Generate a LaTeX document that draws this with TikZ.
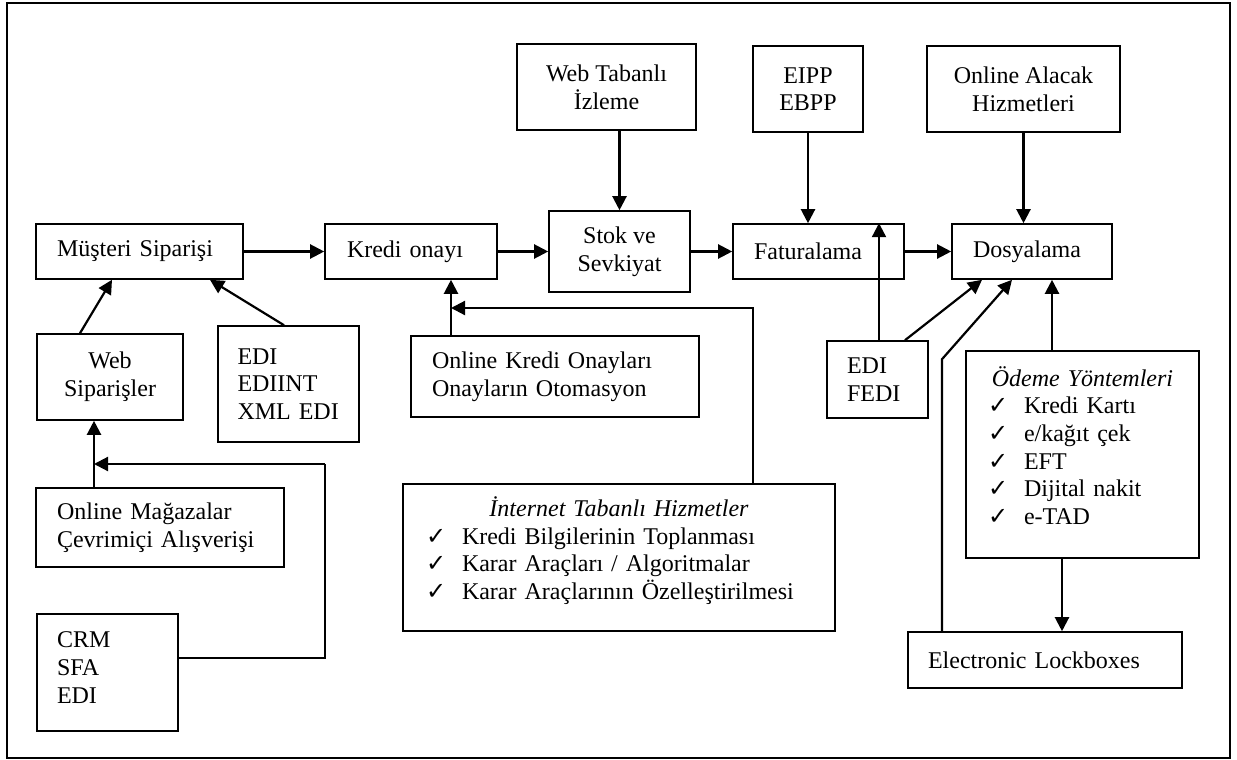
\documentclass[tikz,border=0pt]{standalone}
\usepackage{fontspec}
\setmainfont{Liberation Serif}
\newfontfamily\chkfont{DejaVu Sans}
\usetikzlibrary{arrows.meta}
\newcommand{\ck}{\makebox[18pt][l]{\chkfont\fontsize{12}{12}\selectfont ✓}}
\newcommand{\botpad}[1]{\par\nointerlineskip\vspace{#1}\hbox{}}
\begin{document}
\begin{tikzpicture}[x=0.5pt,y=-0.5pt,
  box/.style={draw, line width=0.8pt, inner sep=0pt, font=\fontsize{12}{13.8}\selectfont},
  lbox/.style={box, align=left},
  cbox/.style={box, align=center},
  arr/.style={line width=1.1pt, -{Triangle[length=7pt,width=7pt]}},
  ln/.style={line width=1.1pt}]
\useasboundingbox (0,0) rectangle (1237,760);
\draw[line width=0.9pt] (7,3) rectangle (1230,758);

% main row
\node[lbox, minimum width=103.5pt, minimum height=27.5pt, text width=82.5pt] (mus) at (139.5,251.5) {Müşteri Siparişi};
\node[lbox, minimum width=86pt, minimum height=27.5pt, text width=64pt] (kredi) at (411,251.5) {Kredi onayı};
\node[cbox, minimum width=70.5pt, minimum height=40.5pt] (stok) at (619.5,251.5) {Stok ve\\Sevkiyat};
\node[lbox, minimum width=85.5pt, minimum height=27.5pt, text width=64.5pt] (fat) at (818.5,251.5) {Faturalama};
\node[lbox, minimum width=80pt, minimum height=27.5pt, text width=59pt] (dosya) at (1032,251.5) {Dosyalama};

% top row
\node[cbox, minimum width=89.5pt, minimum height=43pt] (webiz) at (606.5,87) {Web Tabanlı\\İzleme};
\node[cbox, minimum width=55pt, minimum height=43pt] (eipp) at (808,89) {EIPP\\EBPP};
\node[cbox, minimum width=96.5pt, minimum height=43pt] (alacak) at (1023.5,89) {Online Alacak\\Hizmetleri};

% lower boxes
\node[cbox, minimum width=73pt, minimum height=43pt] (websip) at (110,377) {Web\\Siparişler};
\node[lbox, minimum width=70.5pt, minimum height=58pt, text width=51pt] (edi) at (288.5,384) {EDI\\EDIINT\\XML EDI};
\node[lbox, minimum width=144pt, minimum height=40.5pt, text width=123pt] (okredi) at (555,376.5) {Online Kredi Onayları\\Onayların Otomasyon};
\node[lbox, minimum width=124pt, minimum height=39.5pt, text width=103pt] (omag) at (160,527.5) {Online Mağazalar\\Çevrimiçi Alışverişi};
\node[lbox, minimum width=70.5pt, minimum height=58.5pt, text width=50.5pt] (crm) at (107.5,672.5) {CRM\\SFA\\EDI\botpad{5pt}};
\node[lbox, minimum width=216pt, minimum height=73.5pt, text width=193pt] (inet) at (619,557.5)
  {\makebox[\linewidth][c]{\itshape İnternet Tabanlı Hizmetler}\\
   \ck Kredi Bilgilerinin Toplanması\\
   \ck Karar Araçları / Algoritmalar\\
   \ck Karar Araçlarının Özelleştirilmesi\botpad{7pt}};
\node[lbox, minimum width=50.5pt, minimum height=38.5pt, text width=30.5pt] (fedi) at (877.5,379.5) {EDI\\FEDI};
\node[lbox, minimum width=116.5pt, minimum height=103.5pt, text width=94.5pt] (odeme) at (1082.5,454.5)
  {\makebox[\linewidth][c]{\itshape Ödeme Yöntemleri}\\
   \ck Kredi Kartı\\
   \ck e/kağıt çek\\
   \ck EFT\\
   \ck Dijital nakit\\
   \ck e-TAD\botpad{9pt}};
\node[lbox, minimum width=137pt, minimum height=28pt, text width=117pt] (lock) at (1045,660) {Electronic Lockboxes};

\coordinate (kj) at (451,308);
\coordinate (wj) at (94,464);

% main flow
\draw[arr] (mus.east) -- (kredi.west);
\draw[arr] (kredi.east) -- (stok.west);
\draw[arr] (stok.east) -- (fat.west);
\draw[arr] (fat.east) -- (dosya.west);

% top inputs
\draw[arr] (stok.north |- webiz.south) -- (stok.north);
\draw[arr] (eipp.south) -- (eipp.south |- fat.north);
\draw[arr] (alacak.south) -- (alacak.south |- dosya.north);

% left side
\draw[arr] ([xshift=-15pt]websip.north) -- ([xshift=-13.75pt]mus.south);
\draw[arr] ([xshift=-2.25pt]edi.north) -- ([xshift=35.25pt]mus.south);
\draw[arr] ([xshift=-33pt]omag.north) -- ([xshift=-33pt]omag.north |- websip.south);
\draw[ln] ([yshift=7.25pt]crm.east) -| (325,464);
\draw[arr] (325,464) -- (wj);

% credit
\draw[arr] ([xshift=-52pt]okredi.north) -- ([xshift=-52pt]okredi.north |- kredi.south);
\draw[ln] ([xshift=67pt]inet.north) |- (600,308);
\draw[arr] (600,308) -- (kj);

% right side
\draw[arr] ([xshift=0.75pt]fedi.north) -- ([xshift=0.75pt]fedi.north |- fat.north);
\draw[arr] ([xshift=13.75pt]fedi.north) -- ([xshift=-25pt]dosya.south);
\draw[arr] ([xshift=-51.5pt]lock.north) -- ++(0,-272) -- ([xshift=-10pt]dosya.south);
\draw[arr] ([xshift=-15.25pt]odeme.north) -- ([xshift=-15.25pt]odeme.north |- dosya.south);
\draw[arr] ([xshift=-10.25pt]odeme.south) -- ([xshift=-10.25pt]odeme.south |- lock.north);
\end{tikzpicture}
\end{document}
